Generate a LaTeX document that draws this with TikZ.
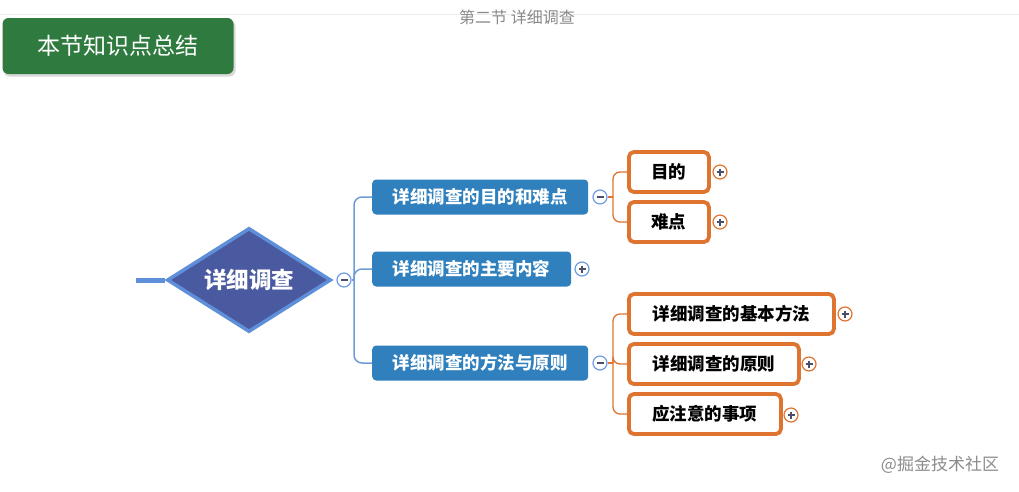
\documentclass[tikz,border=0pt]{standalone}
\usepackage{fontspec}
\setmainfont{Noto Sans CJK SC}
\newfontfamily\cjk{Noto Sans CJK SC}
\usetikzlibrary{shapes.geometric,calc}
\definecolor{topgray}{HTML}{8A8A8A}
\definecolor{greenbox}{HTML}{2F7A3E}
\definecolor{diafill}{HTML}{4A5AA0}
\definecolor{diaedge}{HTML}{5E8FD8}
\definecolor{bluebox}{HTML}{2F80BD}
\definecolor{bluecon}{HTML}{6E9CDA}
\definecolor{orangec}{HTML}{DE7430}
\definecolor{signc}{HTML}{4A4F6A}
\tikzset{
  lvlone/.style={rounded corners=4pt, fill=bluebox, text=white, font=\cjk\bfseries\fontsize{17.5}{17.5}\selectfont, minimum height=35pt, inner xsep=0pt, anchor=west},
  lvltwo/.style={rounded corners=5pt, draw=orangec, line width=3.8pt, fill=white, text=black, font=\cjk\bfseries\fontsize{17.5}{17.5}\selectfont, minimum height=40pt, inner xsep=0pt, anchor=west},
  togglebtn/.style={circle, draw=bluecon, line width=1.2pt, fill=white, minimum size=14pt, inner sep=0pt},
  togglebtno/.style={circle, draw=orangec, line width=1.2pt, fill=white, minimum size=14pt, inner sep=0pt},
  bluelink/.style={draw=bluecon, line width=1.5pt, rounded corners=8pt},
  orangelink/.style={draw=orangec, line width=1.3pt, rounded corners=7pt},
  signline/.style={draw=signc, line width=1.3pt},
}
\begin{document}
\begin{tikzpicture}[x=1pt,y=-1pt]
\useasboundingbox (0,0) rectangle (1019,491);
\fill[white] (0,0) rectangle (1019,491);
% header
\draw[black!8, line width=0.8pt] (0,14) -- (1019,14);
\node[text=topgray, font=\cjk\fontsize{16}{16}\selectfont] (hdr) at (517,17) {第二节 详细调查};
\fill[black!15, rounded corners=6pt] (3.5,20.5) rectangle (235.5,76.5);
\node[rounded corners=6pt, fill=greenbox, text=white, font=\cjk\fontsize{23}{23}\selectfont, minimum width=231pt, minimum height=56pt, inner sep=0pt] (title) at (118,46) {本节知识点总结};
% root
\coordinate (stub) at (136,280);
\node[diamond, aspect=1.57, fill=diafill, draw=diaedge, line width=3.5pt, minimum width=164pt, minimum height=104pt, inner sep=0pt, text=white, font=\cjk\bfseries\fontsize{22.5}{22.5}\selectfont] (root) at (249,280) {详细调查};
\draw[diaedge, line width=5pt] (stub) -- (root.west);
\node[togglebtn] (t0) at (344,280) {};
\draw[signline] ($(t0.center)+(-3.5,0)$) -- ++(7,0);
% level one
\node[lvlone, minimum width=216pt] (b1) at (372,197) {详细调查的目的和难点};
\node[lvlone, minimum width=199pt] (b2) at (372,269) {详细调查的主要内容};
\node[lvlone, minimum width=216pt] (b3) at (372,363) {详细调查的方法与原则};
\coordinate (j0) at (354,280);
\draw[bluelink] (t0.east) -- (j0);
\draw[bluelink] (j0) |- (b1.west);
\draw[bluelink] (j0) |- (b2.west);
\draw[bluelink] (j0) |- (b3.west);
\node[togglebtn] (t1) at (600,197) {};
\draw[signline] ($(t1.center)+(-3.5,0)$) -- ++(7,0);
\node[togglebtn] (t2) at (582,269) {};
\draw[signline] ($(t2.center)+(-3.5,0)$) -- ++(7,0);
\draw[signline] ($(t2.center)+(0,-3.5)$) -- ++(0,7);
\node[togglebtn] (t3) at (600,363) {};
\draw[signline] ($(t3.center)+(-3.5,0)$) -- ++(7,0);
% level two
\node[lvltwo, minimum width=80pt] (c1) at (627,172) {目的};
\node[lvltwo, minimum width=80pt] (c2) at (627,222) {难点};
\node[lvltwo, minimum width=205pt] (c3) at (627,314) {详细调查的基本方法};
\node[lvltwo, minimum width=170pt] (c4) at (627,364) {详细调查的原则};
\node[lvltwo, minimum width=152pt] (c5) at (627,414) {应注意的事项};
\coordinate (j1) at (613,197);
\coordinate (j3) at (613,363);
\draw[orangelink] (t1.east) -- (j1);
\draw[orangelink] (j1) |- (c1.west);
\draw[orangelink] (j1) |- (c2.west);
\draw[orangelink] (t3.east) -- (j3);
\draw[orangelink] (j3) |- (c3.west);
\draw[orangelink] (j3) |- (c4.west);
\draw[orangelink] (j3) |- (c5.west);
\foreach \n/\px/\py in {p1/720/172, p2/720/222, p3/845/314, p4/809/364, p5/791/415}{
  \node[togglebtno] (\n) at (\px,\py) {};
  \draw[signline] ($(\n.center)+(-3.5,0)$) -- ++(7,0);
  \draw[signline] ($(\n.center)+(0,-3.5)$) -- ++(0,7);
}
% watermark
\node[text=black!45, font=\cjk\fontsize{17}{17}\selectfont] (wm) at (940,465) {@掘金技术社区};
\end{tikzpicture}
\end{document}
